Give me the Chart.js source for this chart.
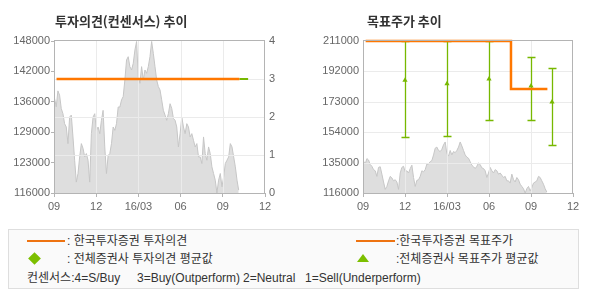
<!DOCTYPE html>
<html><head><meta charset="utf-8">
<script src="https://cdn.jsdelivr.net/npm/chart.js@4.4.1/dist/chart.umd.min.js"></script>
<style>
html,body{margin:0;padding:0;background:#fff;}
body{width:590px;height:300px;position:relative;overflow:hidden;font-family:'Liberation Sans','Noto Sans CJK KR',sans-serif;}
.abs{position:absolute;white-space:pre;}
.title{font-family:'Noto Sans CJK KR',sans-serif;font-weight:bold;font-size:13px;color:#333;line-height:16px;}
.lg{font-size:12px;color:#333;line-height:16px;}
#box{position:absolute;left:8px;top:229px;width:569px;height:58px;border:1px solid #dedede;background:#fafafa;}
.oline{position:absolute;height:2px;background:#ee7311;}
#dia{position:absolute;left:30px;top:254px;width:9px;height:9px;background:#7cbf00;transform:rotate(45deg);}
#tri{position:absolute;left:357px;top:254px;width:0;height:0;border-left:6px solid transparent;border-right:6px solid transparent;border-bottom:8px solid #7cbf00;}
</style></head><body>
<div id="box"></div>
<canvas id="c1" width="295" height="215" class="abs" style="left:0;top:0"></canvas>
<canvas id="c2" width="295" height="215" class="abs" style="left:295px;top:0"></canvas>
<div class="abs title" style="left:55px;top:13px">투자의견(컨센서스) 추이</div>
<div class="abs title" style="left:367px;top:13px">목표주가 추이</div>
<div class="oline" style="left:27px;top:240px;width:38px"></div>
<div class="abs lg" style="left:67px;top:233px">: 한국투자증권 투자의견</div>
<div id="dia"></div>
<div class="abs lg" style="left:67px;top:251px">: 전체증권사 투자의견 평균값</div>
<div class="oline" style="left:356px;top:240px;width:39px"></div>
<div class="abs lg" style="left:396px;top:233px">:한국투자증권 목표주가</div>
<div id="tri"></div>
<div class="abs lg" style="left:396px;top:251px">:전체증권사 목표주가 평균값</div>
<div class="abs lg" style="left:27px;top:270px">컨센서스:4=S/Buy</div>
<div class="abs lg" style="left:137px;top:270px">3=Buy(Outperform)</div>
<div class="abs lg" style="left:243px;top:270px">2=Neutral</div>
<div class="abs lg" style="left:305px;top:270px">1=Sell(Underperform)</div>
<script>
// ---- data ----
const xTickLabels = ['09','12','16/03','06','09','12'];          // months 0..15 from 2015-09
const priceTickLabels = ['116000','123000','129000','136000','142000','148000'];
const opinionTickLabels = ['0','1','2','3','4'];
const tpTickLabels = ['116000','135000','154000','173000','192000','211000'];

const priceStartMonth = 0.04;   // first sample (early Sep 2015)
const priceStepMonth = 0.119;   // sampling interval (months)
const priceValues = [
135900,134150,137500,136600,133800,132700,130600,129900,126400,132000,
132400,127800,122900,118300,120100,123600,126400,125400,123600,124300,
122900,118300,128500,132000,132700,129200,129900,128500,131300,133400,
125700,120100,123900,124300,126400,129900,129200,130600,134100,134100,
135600,136300,139800,144000,144700,142600,141900,143300,146100,147900,
140500,139100,142600,139800,141900,141200,142600,144700,147900,145400,
142600,139800,138400,137700,135600,133400,132400,131300,132700,134800,
133800,131700,131300,129900,125700,128500,132000,129900,128500,130600,
129900,127800,128500,127100,125700,126400,123600,123600,122200,127800,
124300,122900,125700,124300,121500,120100,118700,116000,118700,120100,
117300,119400,122200,122900,123600,126400,125700,123600,121500,118700,
116600
];

const kisOpinionMonths = [0.18, 13.18];
const kisOpinion = [3, 3];
const consOpinionMonths = [13.18, 13.8];
const consOpinion = [3, 3];

const kisTpMonths = [0.19, 10.57, 13.17];
const kisTp = [211000, 181000, 181000];

const consTpMonths = [3.0, 6.0, 9.0, 12.0, 13.5];
const consTpHigh = [211000, 211000, 211000, 201000, 194000];
const consTpAvg  = [186500, 184300, 187200, 182800, 172800];
const consTpLow  = [151300, 151900, 161500, 161500, 146300];

// ---- build ----
const pricePoints = priceValues.map((v,i)=>({x: priceStartMonth + i*priceStepMonth, y: v}));
const pts = (xs, ys) => xs.map((x,i)=>({x, y: ys[i]}));

const ORANGE = '#ff7700', GREEN = '#77b800', GRID = '#ebebeb', FRAME = '#b4b4b4';
Chart.defaults.font.family = "'Liberation Sans','Noto Sans CJK KR',sans-serif";
Chart.defaults.font.size = 11;
Chart.defaults.color = '#666';

const gridPlugin = {
  id: 'gridAfterPrice',
  afterDatasetDraw(chart, args, opts) {
    const ds = chart.data.datasets[args.index];
    if (!ds.isPrice) return;
    const {ctx, chartArea: a} = chart;
    ctx.save();
    ctx.strokeStyle = GRID; ctx.lineWidth = 1;
    const xs = chart.scales.x;
    xs.ticks.forEach(t => {
      const px = Math.round(xs.getPixelForValue(t.value)) + 0.5;
      if (px > a.left + 2 && px < a.right - 2) { ctx.beginPath(); ctx.moveTo(px, a.top); ctx.lineTo(px, a.bottom); ctx.stroke(); }
    });
    const ys = chart.scales[opts.yId];
    ys.ticks.forEach(t => {
      const py = Math.round(ys.getPixelForValue(t.value)) + 0.5;
      if (py > a.top + 2 && py < a.bottom - 2) { ctx.beginPath(); ctx.moveTo(a.left, py); ctx.lineTo(a.right, py); ctx.stroke(); }
    });
    // error bars (consensus target price range)
    if (opts.errorBars) {
      const y = chart.scales.y;
      ctx.strokeStyle = GREEN; ctx.lineWidth = 1.3;
      consTpMonths.forEach((m, i) => {
        const px = Math.round(xs.getPixelForValue(m)) + 0.5;
        const hi = Math.round(y.getPixelForValue(consTpHigh[i])) + 0.5;
        const lo = Math.round(y.getPixelForValue(consTpLow[i])) + 0.5;
        ctx.beginPath();
        ctx.moveTo(px, hi); ctx.lineTo(px, lo);
        ctx.moveTo(px - 4, hi); ctx.lineTo(px + 4, hi);
        ctx.moveTo(px - 4, lo); ctx.lineTo(px + 4, lo);
        ctx.stroke();
      });
    }
    ctx.restore();
  },
  afterDatasetsDraw(chart) {
    const {ctx, chartArea: a} = chart;
    ctx.save();
    ctx.strokeStyle = FRAME; ctx.lineWidth = 1;
    ctx.strokeRect(Math.round(a.left) + 0.5, Math.round(a.top) - 0.5, Math.round(a.right - a.left) - 1, Math.round(a.bottom - a.top) + 1);
    ctx.restore();
  }
};

const xScale = {
  type: 'linear', min: 0, max: 15,
  border: {display: false},
  grid: {drawOnChartArea: false, drawTicks: true, tickLength: 4, tickColor: FRAME},
  ticks: {stepSize: 3, padding: 3, maxRotation: 0, autoSkip: false, callback: v => xTickLabels[Math.round(v / 3)]},
  afterFit: s => { s.height = 22; }
};

const priceDataset = (yAxisID) => ({
  type: 'line', isPrice: true, data: pricePoints, yAxisID, order: 5,
  borderColor: '#c6c6c6', borderWidth: 1, backgroundColor: '#dedede',
  fill: 'start', pointRadius: 0, tension: 0
});

new Chart(document.getElementById('c1'), {
  type: 'line',
  data: { datasets: [
    priceDataset('yPrice'),
    { data: pts(consOpinionMonths, consOpinion), yAxisID: 'yOp', borderColor: GREEN, borderWidth: 2, pointRadius: 0, order: 1, clip: false },
    { data: pts(kisOpinionMonths, kisOpinion), yAxisID: 'yOp', borderColor: ORANGE, borderWidth: 2.5, pointRadius: 0, order: 0, clip: false }
  ]},
  options: {
    responsive: false, animation: false, devicePixelRatio: 1,
    layout: {padding: {top: 41, left: 0, right: 0, bottom: 0}},
    plugins: {legend: {display: false}, tooltip: {enabled: false}, gridAfterPrice: {yId: 'yOp'}},
    scales: {
      x: xScale,
      yPrice: {
        type: 'linear', position: 'left', min: 116000, max: 148000,
        border: {display: false},
        grid: {drawOnChartArea: false, drawTicks: true, tickLength: 3, tickColor: FRAME},
        ticks: {stepSize: 6400, padding: 1, callback: (v, i) => priceTickLabels[i]},
        afterFit: s => { s.width = 54; }
      },
      yOp: {
        type: 'linear', position: 'right', min: 0, max: 4,
        border: {display: false},
        grid: {drawOnChartArea: false, drawTicks: false},
        ticks: {stepSize: 1, padding: 4, callback: (v, i) => opinionTickLabels[i]},
        afterFit: s => { s.width = 30; }
      }
    }
  },
  plugins: [gridPlugin]
});

new Chart(document.getElementById('c2'), {
  type: 'line',
  data: { datasets: [
    priceDataset('y'),
    { data: pts(consTpMonths, consTpAvg), yAxisID: 'y', showLine: false, pointStyle: 'triangle', pointRadius: 3,
      pointBackgroundColor: GREEN, pointBorderColor: GREEN, borderWidth: 0, order: 1 },
    { data: pts(kisTpMonths, kisTp), yAxisID: 'y', stepped: 'before', borderColor: ORANGE, borderWidth: 2.5, pointRadius: 0, order: 0, clip: false }
  ]},
  options: {
    responsive: false, animation: false, devicePixelRatio: 1,
    layout: {padding: {top: 41, left: 0, right: 17, bottom: 0}},
    plugins: {legend: {display: false}, tooltip: {enabled: false}, gridAfterPrice: {yId: 'y', errorBars: true}},
    scales: {
      x: xScale,
      y: {
        type: 'linear', position: 'left', min: 116000, max: 211000,
        border: {display: false},
        grid: {drawOnChartArea: false, drawTicks: false},
        ticks: {stepSize: 19000, padding: 4, callback: (v, i) => tpTickLabels[i]},
        afterFit: s => { s.width = 68; }
      }
    }
  },
  plugins: [gridPlugin]
});
</script>
</body></html>
